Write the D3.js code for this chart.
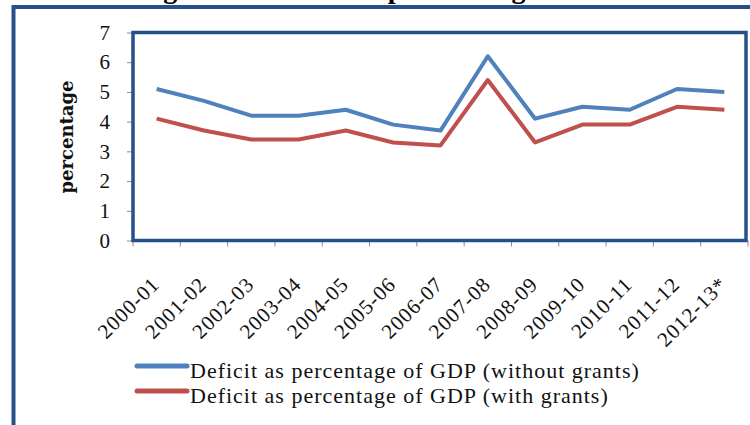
<!DOCTYPE html>
<html>
<head>
<meta charset="utf-8">
<script src="https://cdn.jsdelivr.net/npm/d3@7"></script>
<style>
  body { margin: 0; background: #fff; }
  svg { display: block; }
</style>
</head>
<body>
<div id="chart"></div>
<script>
// data
const years = ["2000-01", "2001-02", "2002-03", "2003-04", "2004-05", "2005-06", "2006-07",
               "2007-08", "2008-09", "2009-10", "2010-11", "2011-12", "2012-13*"]
const withoutGrants = [5.1, 4.7, 4.2, 4.2, 4.4, 3.9, 3.7, 6.2, 4.1, 4.5, 4.4, 5.1, 5.0]
const withGrants = [4.1, 3.7, 3.4, 3.4, 3.7, 3.3, 3.2, 5.4, 3.3, 3.9, 3.9, 4.5, 4.4]
const yTicks = [0, 1, 2, 3, 4, 5, 6, 7]
const seriesNames = ["Deficit as percentage of GDP (without grants)", "Deficit as percentage of GDP (with grants)"]
const seriesColors = ["#4F81BD", "#C0504D"]
const titleText = "Budget Deficit as a percentage of GDP"

const width = 750, height = 425
const frameColor = "#25508A"
const serif = "'Liberation Serif', 'Times New Roman', serif"

const svg = d3.select("#chart")
    .append("svg")
    .attr("width", width)
    .attr("height", height)

// outer frame (runs off the right and bottom edge)
svg.append("rect")
    .attr("x", 13.5).attr("y", 7)
    .attr("width", 800).attr("height", 500)
    .attr("fill", "none")
    .attr("stroke", frameColor)
    .attr("stroke-width", 4)

// title sits above the picture, only its descenders show
svg.append("text")
    .attr("x", 106).attr("y", -2)
    .style("font-family", serif)
    .style("font-weight", "bold")
    .style("font-size", "28px")
    .style("letter-spacing", "2.5px")
    .text(titleText)

const plot = {left: 133, right: 748, top: 32.5, bottom: 240.5}

const x = d3.scaleBand()
    .domain(years)
    .range([plot.left, plot.right])

const y = d3.scaleLinear()
    .domain([0, 7])
    .range([plot.bottom, plot.top])

// y axis: small grey ticks + labels
const yAxis = d3.axisLeft(y)
    .tickValues(yTicks)
    .tickSize(6)
    .tickPadding(17)
    .tickFormat(d3.format("d"))

const gy = svg.append("g")
    .attr("transform", "translate(" + plot.left + ",0)")
    .call(yAxis)
gy.select(".domain").remove()
gy.selectAll(".tick line").attr("stroke", "#8c8c8c")
gy.selectAll(".tick text")
    .style("font-family", serif)
    .style("font-size", "21px")
    .attr("fill", "#111")

// x axis ticks at band boundaries
const bounds = years.map(d => x(d)).concat([x.range()[1]])
svg.append("g")
    .selectAll("line")
    .data(bounds)
    .join("line")
    .attr("x1", d => d).attr("x2", d => d)
    .attr("y1", plot.bottom).attr("y2", plot.bottom + 6)
    .attr("stroke", "#8c8c8c")

// rotated category labels
svg.append("g")
    .selectAll("text")
    .data(years)
    .join("text")
    .attr("transform", d => "translate(" + (x(d) + x.bandwidth() / 2 + 4) + "," + (plot.bottom + 45) + ") rotate(-45)")
    .attr("text-anchor", "end")
    .style("font-family", serif)
    .style("font-size", "21px")
    .style("letter-spacing", "1px")
    .attr("fill", "#111")
    .text(d => d)

// plot area frame
svg.append("rect")
    .attr("x", plot.left).attr("y", plot.top)
    .attr("width", 746 - plot.left).attr("height", plot.bottom - plot.top)
    .attr("fill", "none")
    .attr("stroke", frameColor)
    .attr("stroke-width", 3.5)

// y axis title
svg.append("text")
    .attr("transform", "translate(73,137) rotate(-90)")
    .attr("text-anchor", "middle")
    .style("font-family", "'DejaVu Serif', serif")
    .style("font-weight", "bold")
    .style("font-size", "18px")
    .attr("fill", "#111")
    .text("percentage")

// lines
const line = d3.line()
    .x((d, i) => x(years[i]) + x.bandwidth() / 2)
    .y(d => y(d))

svg.append("g")
    .selectAll("path")
    .data([withoutGrants, withGrants])
    .join("path")
    .attr("d", d => line(d))
    .attr("fill", "none")
    .attr("stroke", (d, i) => seriesColors[i])
    .attr("stroke-width", 4)
    .attr("stroke-linejoin", "round")

// legend
const legend = svg.append("g")
    .selectAll("g")
    .data(seriesNames)
    .join("g")
    .attr("transform", (d, i) => "translate(137," + (366 + i * 25) + ")")

legend.append("line")
    .attr("x1", 0).attr("x2", 50)
    .attr("stroke", (d, i) => seriesColors[i])
    .attr("stroke-width", 5)
    .attr("stroke-linecap", "round")

legend.append("text")
    .attr("x", 53).attr("y", 12)
    .style("font-family", serif)
    .style("font-size", "22px")
    .style("letter-spacing", "1px")
    .attr("fill", "#111")
    .text(d => d)
</script>
</body>
</html>
